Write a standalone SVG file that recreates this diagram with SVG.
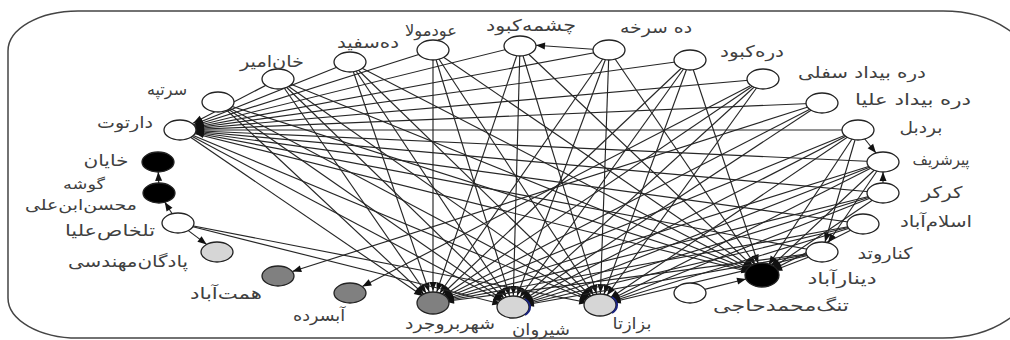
<svg xmlns="http://www.w3.org/2000/svg" width="1010" height="340" viewBox="0 0 1010 340">
<style>
.e line{stroke:#262626;stroke-width:1.15;fill:none}
.h line{marker-end:url(#mh)}
.d line{marker-end:url(#md)}
.s line{marker-end:url(#ms)}
.n{stroke:#222;stroke-width:1.3}
.w{fill:#fff}.b{fill:#000}.lg{fill:#d6d6d6}.dg{fill:#808080}
text{font-family:"DejaVu Sans",sans-serif;font-size:16px;fill:#404040;text-anchor:middle}
</style>
<defs>
<marker id="mh" markerUnits="userSpaceOnUse" markerWidth="40" markerHeight="10" refX="21" refY="3.5" orient="auto" overflow="visible"><path d="M0,0 L9,3.5 L0,7z" fill="#111"/></marker>
<marker id="md" markerUnits="userSpaceOnUse" markerWidth="40" markerHeight="10" refX="24" refY="3.5" orient="auto" overflow="visible"><path d="M0,0 L9,3.5 L0,7z" fill="#111"/></marker>
<marker id="ms" markerUnits="userSpaceOnUse" markerWidth="12" markerHeight="10" refX="9" refY="3.5" orient="auto" overflow="visible"><path d="M0,0 L9,3.5 L0,7z" fill="#111"/></marker>
</defs>
<path d="M78,11 H943 A90,60 0 0 1 1033,71 V278 A90,60 0 0 1 943,338 H78 A70,40 0 0 1 8,298 V51 A70,40 0 0 1 78,11 Z" fill="#fff" stroke="#444" stroke-width="1.5"/>
<g id="connectors" class="e">
<g class="h">
<line x1="218" y1="102" x2="433" y2="303"/><line x1="278" y1="79" x2="433" y2="303"/><line x1="350" y1="62" x2="433" y2="303"/><line x1="433" y1="50" x2="433" y2="303"/><line x1="520" y1="46" x2="433" y2="303"/><line x1="609" y1="50" x2="433" y2="303"/><line x1="690" y1="60" x2="433" y2="303"/>
<line x1="218" y1="102" x2="513" y2="307"/><line x1="278" y1="79" x2="513" y2="307"/><line x1="350" y1="62" x2="513" y2="307"/><line x1="433" y1="50" x2="513" y2="307"/><line x1="520" y1="46" x2="513" y2="307"/><line x1="609" y1="50" x2="513" y2="307"/><line x1="690" y1="60" x2="513" y2="307"/>
<line x1="218" y1="102" x2="600" y2="305"/><line x1="278" y1="79" x2="600" y2="305"/><line x1="350" y1="62" x2="600" y2="305"/><line x1="433" y1="50" x2="600" y2="305"/><line x1="520" y1="46" x2="600" y2="305"/><line x1="609" y1="50" x2="600" y2="305"/><line x1="690" y1="60" x2="600" y2="305"/>
<line x1="218" y1="102" x2="762" y2="275"/><line x1="278" y1="79" x2="762" y2="275"/><line x1="350" y1="62" x2="762" y2="275"/><line x1="433" y1="50" x2="762" y2="275"/><line x1="520" y1="46" x2="762" y2="275"/><line x1="609" y1="50" x2="762" y2="275"/><line x1="690" y1="60" x2="762" y2="275"/>
<line x1="858" y1="130" x2="433" y2="303"/><line x1="883" y1="162" x2="433" y2="303"/><line x1="883" y1="193" x2="433" y2="303"/><line x1="863" y1="224" x2="433" y2="303"/><line x1="822" y1="252" x2="433" y2="303"/>
<line x1="858" y1="130" x2="513" y2="307"/><line x1="883" y1="162" x2="513" y2="307"/><line x1="883" y1="193" x2="513" y2="307"/><line x1="863" y1="224" x2="513" y2="307"/><line x1="822" y1="252" x2="513" y2="307"/>
<line x1="858" y1="130" x2="600" y2="305"/><line x1="883" y1="162" x2="600" y2="305"/><line x1="883" y1="193" x2="600" y2="305"/><line x1="863" y1="224" x2="600" y2="305"/><line x1="822" y1="252" x2="600" y2="305"/>
<line x1="858" y1="130" x2="762" y2="275"/><line x1="883" y1="162" x2="762" y2="275"/><line x1="883" y1="193" x2="762" y2="275"/><line x1="863" y1="224" x2="762" y2="275"/><line x1="822" y1="252" x2="762" y2="275"/>
<line x1="763" y1="79" x2="433" y2="303"/><line x1="763" y1="79" x2="513" y2="307"/><line x1="763" y1="79" x2="600" y2="305"/>
<line x1="822" y1="103" x2="433" y2="303"/><line x1="822" y1="103" x2="513" y2="307"/>
<line x1="180" y1="130" x2="433" y2="303"/><line x1="180" y1="130" x2="513" y2="307"/><line x1="180" y1="130" x2="600" y2="305"/><line x1="180" y1="130" x2="762" y2="275"/>
<line x1="178" y1="223" x2="513" y2="307"/><line x1="178" y1="223" x2="600" y2="305"/>
</g>
<g class="d">
<line x1="278" y1="79" x2="180" y2="130"/><line x1="350" y1="62" x2="180" y2="130"/><line x1="433" y1="50" x2="180" y2="130"/><line x1="520" y1="46" x2="180" y2="130"/><line x1="609" y1="50" x2="180" y2="130"/><line x1="690" y1="60" x2="180" y2="130"/><line x1="763" y1="79" x2="180" y2="130"/><line x1="822" y1="103" x2="180" y2="130"/><line x1="858" y1="130" x2="180" y2="130"/><line x1="883" y1="162" x2="180" y2="130"/><line x1="883" y1="193" x2="180" y2="130"/><line x1="863" y1="224" x2="180" y2="130"/><line x1="822" y1="252" x2="180" y2="130"/>
</g>
<g class="s">
<line x1="593" y1="49.3" x2="536" y2="45.3"/>
<line x1="864" y1="138" x2="876" y2="153"/>
<line x1="883" y1="183" x2="883" y2="172"/>
<line x1="855" y1="140" x2="825" y2="242"/>
<line x1="877" y1="171" x2="828" y2="242.8"/>
<line x1="172.3" y1="214" x2="164.7" y2="202"/>
<line x1="158.7" y1="183" x2="158.3" y2="172"/>
<line x1="188.3" y1="230.6" x2="206.7" y2="244.4"/>
<line x1="808" y1="107" x2="292.3" y2="271.5"/>
<line x1="750" y1="86" x2="362.3" y2="286.6"/>
<line x1="704.6" y1="289.4" x2="746" y2="279"/>
</g>
</g>
<g id="n-dartut"><ellipse class="n w" cx="180" cy="130" rx="16" ry="10"/><text x="125" y="128" textLength="56" lengthAdjust="spacingAndGlyphs">دارتوت</text></g>
<g id="n-sartappeh"><ellipse class="n w" cx="218" cy="102" rx="16" ry="10"/><text x="167" y="95" textLength="40" lengthAdjust="spacingAndGlyphs">سرتپه</text></g>
<g id="n-khanamir"><ellipse class="n w" cx="278" cy="79" rx="16" ry="10"/><text x="272" y="67" textLength="64" lengthAdjust="spacingAndGlyphs">خان‌امیر</text></g>
<g id="n-dehsefid"><ellipse class="n w" cx="350" cy="62" rx="16" ry="10"/><text x="368" y="48" textLength="62" lengthAdjust="spacingAndGlyphs">ده‌سفید</text></g>
<g id="n-oudmola"><ellipse class="n w" cx="433" cy="50" rx="16" ry="10"/><text x="431" y="36" textLength="52" lengthAdjust="spacingAndGlyphs">عودمولا</text></g>
<g id="n-cheshmehkabud"><ellipse class="n w" cx="520" cy="46" rx="16" ry="10"/><text x="531" y="31" textLength="90" lengthAdjust="spacingAndGlyphs">چشمه‌کبود</text></g>
<g id="n-dehsorkheh"><ellipse class="n w" cx="609" cy="50" rx="16" ry="10"/><text x="656" y="33" textLength="72" lengthAdjust="spacingAndGlyphs">ده سرخه</text></g>
<g id="n-darrehkabud"><ellipse class="n w" cx="690" cy="60" rx="16" ry="10"/><text x="752" y="57" textLength="64" lengthAdjust="spacingAndGlyphs">دره‌کبود</text></g>
<g id="n-bidadsofla"><ellipse class="n w" cx="763" cy="79" rx="16" ry="10"/><text x="862" y="78" textLength="128" lengthAdjust="spacingAndGlyphs">دره بیداد سفلی</text></g>
<g id="n-bidadolya"><ellipse class="n w" cx="822" cy="103" rx="16" ry="10"/><text x="913" y="105" textLength="116" lengthAdjust="spacingAndGlyphs">دره بیداد علیا</text></g>
<g id="n-bardbol"><ellipse class="n w" cx="858" cy="130" rx="16" ry="10"/><text x="921" y="133" textLength="43" lengthAdjust="spacingAndGlyphs">بردبل</text></g>
<g id="n-pirsharif"><ellipse class="n w" cx="883" cy="162" rx="16" ry="10"/><text x="941" y="165" textLength="57" lengthAdjust="spacingAndGlyphs">پیرشریف</text></g>
<g id="n-karkar"><ellipse class="n w" cx="883" cy="193" rx="16" ry="10"/><text x="942" y="198" textLength="41" lengthAdjust="spacingAndGlyphs">کرکر</text></g>
<g id="n-eslamabad"><ellipse class="n w" cx="863" cy="224" rx="16" ry="10"/><text x="936" y="227" textLength="72" lengthAdjust="spacingAndGlyphs">اسلام‌آباد</text></g>
<g id="n-kenarvand"><ellipse class="n w" cx="822" cy="252" rx="16" ry="10"/><text x="885" y="259" textLength="55" lengthAdjust="spacingAndGlyphs">کناروتد</text></g>
<g id="n-dinarabad"><ellipse class="n b" cx="762" cy="275" rx="17" ry="12"/><text x="842" y="284" textLength="69" lengthAdjust="spacingAndGlyphs">دینارآباد</text></g>
<g id="n-tangmohammadhaji"><ellipse class="n w" cx="690" cy="293" rx="16" ry="10"/><text x="781" y="311" textLength="136" lengthAdjust="spacingAndGlyphs">تنگ‌محمدحاجی</text></g>
<g id="n-bazazta"><ellipse class="n lg" cx="600" cy="305" rx="16" ry="11"/><path d="M612,297 A16,11 0 0 1 612,313" fill="none" stroke="#1a237e" stroke-width="2"/><text x="632" y="329" textLength="39" lengthAdjust="spacingAndGlyphs">بزازتا</text></g>
<g id="n-shirvan"><ellipse class="n lg" cx="513" cy="307" rx="16" ry="11"/><path d="M525,299 A16,11 0 0 1 525,315" fill="none" stroke="#1a237e" stroke-width="2"/><text x="541" y="335" textLength="58" lengthAdjust="spacingAndGlyphs">شیروان</text></g>
<g id="n-shahrboroujerd"><ellipse class="n dg" cx="433" cy="303" rx="16" ry="11"/><text x="450" y="329" textLength="90" lengthAdjust="spacingAndGlyphs">شهربروجرد</text></g>
<g id="n-absardeh"><ellipse class="n dg" cx="350" cy="293" rx="16" ry="10"/><text x="319" y="321" textLength="52" lengthAdjust="spacingAndGlyphs">آبسرده</text></g>
<g id="n-hematabad"><ellipse class="n dg" cx="278" cy="276" rx="16" ry="10"/><text x="226" y="299" textLength="72" lengthAdjust="spacingAndGlyphs">همت‌آباد</text></g>
<g id="n-padegan"><ellipse class="n lg" cx="217" cy="252" rx="16" ry="10"/><text x="128" y="267" textLength="120" lengthAdjust="spacingAndGlyphs">پادگان‌مهندسی</text></g>
<g id="n-talkhasolya"><ellipse class="n w" cx="178" cy="223" rx="16" ry="10"/><text x="110" y="236" textLength="90" lengthAdjust="spacingAndGlyphs">تلخاص‌علیا</text></g>
<g id="n-gousheh"><ellipse class="n b" cx="159" cy="193" rx="16" ry="10"/><text x="84" y="189" style="font-size:14px" textLength="42" lengthAdjust="spacingAndGlyphs">گوشه</text><text x="81" y="210" style="font-size:15px" textLength="112" lengthAdjust="spacingAndGlyphs">محسن‌ابن‌علی</text></g>
<g id="n-khayan"><ellipse class="n b" cx="158" cy="162" rx="16" ry="10"/><text x="106" y="166" textLength="45" lengthAdjust="spacingAndGlyphs">خایان</text></g>
</svg>
